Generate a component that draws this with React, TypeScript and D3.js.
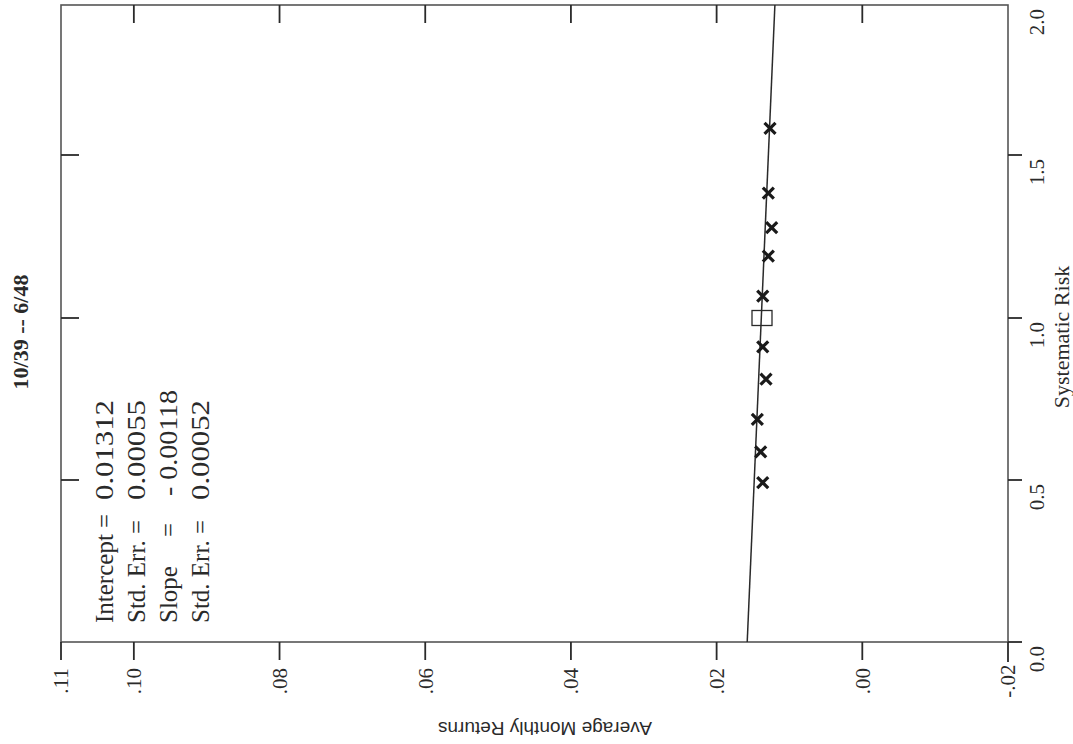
import React from 'react';
import * as d3 from 'd3';

const title = '10/39 -- 6/48';
const xAxisTitle = 'Systematic Risk';
const yAxisTitle = 'Average Monthly Returns';

const betaTicks = [0, 0.5, 1.0, 1.5, 2.0];
const betaTickLabels = ['0.0', '0.5', '1.0', '1.5', '2.0'];
const returnTicks = [0.11, 0.1, 0.08, 0.06, 0.04, 0.02, 0.0, -0.02];
const returnTickLabels = ['.11', '.10', '.08', '.06', '.04', '.02', '.00', '-.02'];

const portfolioBetas = [1.589, 1.383, 1.277, 1.19, 1.067, 0.911, 0.811, 0.687, 0.587, 0.492];
const portfolioReturns = [0.01267, 0.0129, 0.01244, 0.0129, 0.01367, 0.01367, 0.01322, 0.01441, 0.01395, 0.01367];

const marketBetas = [1.0];
const marketReturns = [0.01377];

const fitBetas = [0, 2.0];
const fitReturns = [0.0158, 0.012];

const statLabels = ['Intercept =', 'Std. Err. =', 'Slope', 'Std. Err. ='];
const statEquals = ['', '', '=', ''];
const statValues = ['0.01312', '0.00055', '- 0.00118', '0.00052'];

const W = 1073;
const H = 744;
const frame = { left: 61, right: 1008, top: 5, bottom: 642 };

export default function App() {
  // rotated chart: beta runs upward, returns run right-to-left
  // piecewise range follows the slightly uneven spacing of the scanned axis
  const beta = d3.scaleLinear().domain([0, 0.5, 1, 1.5, 2]).range([642, 480, 318, 155, 5]);
  const ret = d3.scaleLinear().domain([-0.02, 0.11]).range([1008, 61]);

  const line = d3
    .line<number>()
    .x((_, i) => ret(fitReturns[i]))
    .y((b) => beta(b));

  const ink = '#2a2a2a';
  const serif = '"Liberation Serif", "Times New Roman", serif';
  const sans = '"Liberation Sans", Arial, sans-serif';

  const innerBeta = betaTicks.filter((b) => b > 0 && b < 2);

  return (
    <svg
      width={W}
      height={H}
      style={{ position: 'absolute', left: 0, top: 0, background: '#fff' }}
    >
      <rect x={0} y={0} width={W} height={H} fill="#fff" />
      {/* frame */}
      <rect
        x={frame.left}
        y={frame.top}
        width={frame.right - frame.left}
        height={frame.bottom - frame.top}
        fill="none"
        stroke="#555"
        strokeWidth={1.6}
      />
      {/* return ticks bottom (outward) */}
      {returnTicks.map((v, i) => (
        <line
          key={'rb' + i}
          x1={ret(v)}
          x2={ret(v)}
          y1={frame.bottom}
          y2={frame.bottom + (v === -0.02 ? 20 : 18)}
          stroke={ink}
          strokeWidth={1.8}
        />
      ))}
      {/* return ticks top (inward) */}
      {returnTicks
        .filter((v) => v < 0.11 && v > -0.02)
        .map((v, i) => (
          <line
            key={'rt' + i}
            x1={ret(v)}
            x2={ret(v)}
            y1={frame.top}
            y2={frame.top + 18}
            stroke={ink}
            strokeWidth={1.8}
          />
        ))}
      {/* beta ticks left (inward) */}
      {innerBeta.map((b, i) => (
        <line
          key={'bl' + i}
          x1={frame.left}
          x2={frame.left + 18}
          y1={beta(b)}
          y2={beta(b)}
          stroke={ink}
          strokeWidth={1.8}
        />
      ))}
      {/* beta ticks right (outward) */}
      {betaTicks
        .filter((b) => b < 2)
        .map((b, i) => (
          <line
            key={'br' + i}
            x1={frame.right}
            x2={frame.right + 14}
            y1={beta(b)}
            y2={beta(b)}
            stroke={ink}
            strokeWidth={1.8}
          />
        ))}
      {/* return tick labels */}
      {returnTicks.map((v, i) => (
        <text
          key={'rl' + i}
          transform={`translate(${ret(v)},${681}) rotate(-90)`}
          textAnchor="middle"
          dy="0.35em"
          fontFamily={serif}
          fontSize={21}
          fill={ink}
        >
          {returnTickLabels[i]}
        </text>
      ))}
      {/* beta tick labels */}
      {betaTicks.map((b, i) => (
        <text
          key={'bt' + i}
          transform={`translate(${1037},${beta(b) + 17}) rotate(-90)`}
          textAnchor="middle"
          dy="0.35em"
          fontFamily={serif}
          fontSize={21}
          fill={ink}
        >
          {betaTickLabels[i]}
        </text>
      ))}
      {/* axis titles */}
      <text
        transform={`translate(1069,337) rotate(-90)`}
        textAnchor="middle"
        fontFamily={serif}
        fontSize={22}
        fill={ink}
      >
        {xAxisTitle}
      </text>
      <text
        transform={`translate(545,722) rotate(180)`}
        textAnchor="middle"
        fontFamily={sans}
        fontSize={19}
        fill={ink}
      >
        {yAxisTitle}
      </text>
      <text
        transform={`translate(28,332) rotate(-90)`}
        textAnchor="middle"
        fontFamily={serif}
        fontWeight="bold"
        fontSize={22}
        fill={ink}
      >
        {title}
      </text>
      {/* stats */}
      {statLabels.map((s, i) => (
        <g key={'st' + i} fontFamily={serif} fontSize={25} fill={ink}>
          <text transform={`translate(${113 + 32 * i},623) rotate(-90)`}>{s}</text>
          {statEquals[i] && (
            <text transform={`translate(${113 + 32 * i},537) rotate(-90)`}>{statEquals[i]}</text>
          )}
          <text
            transform={`translate(${113 + 32 * i},${i === 2 ? 496 : 500}) rotate(-90)`}
            textLength={i === 2 ? 106 : 100}
            lengthAdjust="spacingAndGlyphs"
          >
            {statValues[i]}
          </text>
        </g>
      ))}
      {/* fitted line */}
      <path d={line(fitBetas) || ''} fill="none" stroke={ink} strokeWidth={1.5} />
      {/* market square */}
      {marketBetas.map((b, i) => (
        <rect
          key={'m' + i}
          x={ret(marketReturns[i]) - 10}
          y={beta(b) - 7.5}
          width={20}
          height={15}
          fill="none"
          stroke={ink}
          strokeWidth={1.3}
        />
      ))}
      {/* portfolio crosses */}
      {portfolioBetas.map((b, i) => {
        const cx = ret(portfolioReturns[i]);
        const cy = beta(b);
        const s = 5.5;
        return (
          <path
            key={'p' + i}
            d={`M${cx - s},${cy - s}L${cx + s},${cy + s}M${cx - s},${cy + s}L${cx + s},${cy - s}`}
            stroke="#1a1a1a"
            strokeWidth={3.2}
            fill="none"
          />
        );
      })}
    </svg>
  );
}
